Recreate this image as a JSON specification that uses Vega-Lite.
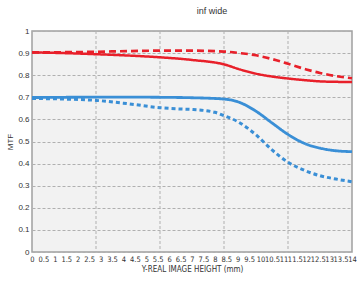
{
  "$schema": "https://vega.github.io/schema/vega-lite/v6.json",
  "width": 320,
  "height": 221,
  "autosize": {"type": "none"},
  "padding": {"left": 32, "top": 31, "right": 12, "bottom": 30},
  "background": "white",
  "title": {"text": "inf wide", "fontSize": 9, "fontWeight": "normal", "font": "Liberation Sans", "color": "#333333", "dx": 20, "offset": 11},
  "config": {"view": {"fill": "#f2f2f2", "stroke": "#a0a0a0", "strokeWidth": 1.5}},
  "datasets": {
    "vgrid": [{"x": 2.8}, {"x": 5.6}, {"x": 8.4}, {"x": 11.2}],
    "curves": [
      {"s": "RS", "x": 0, "y": 0.903}, {"s": "RS", "x": 1.4, "y": 0.9}, {"s": "RS", "x": 2.8, "y": 0.895}, {"s": "RS", "x": 4.2, "y": 0.889}, {"s": "RS", "x": 5.6, "y": 0.881}, {"s": "RS", "x": 7, "y": 0.869}, {"s": "RS", "x": 8.4, "y": 0.849}, {"s": "RS", "x": 9.1, "y": 0.826}, {"s": "RS", "x": 9.8, "y": 0.807}, {"s": "RS", "x": 10.5, "y": 0.794}, {"s": "RS", "x": 11.2, "y": 0.785}, {"s": "RS", "x": 12, "y": 0.777}, {"s": "RS", "x": 12.6, "y": 0.772}, {"s": "RS", "x": 13.3, "y": 0.77}, {"s": "RS", "x": 14, "y": 0.769},
      {"s": "RD", "x": 0, "y": 0.903}, {"s": "RD", "x": 1.4, "y": 0.904}, {"s": "RD", "x": 2.8, "y": 0.906}, {"s": "RD", "x": 4.2, "y": 0.909}, {"s": "RD", "x": 5.6, "y": 0.911}, {"s": "RD", "x": 7, "y": 0.911}, {"s": "RD", "x": 8.4, "y": 0.907}, {"s": "RD", "x": 9.1, "y": 0.9}, {"s": "RD", "x": 9.8, "y": 0.89}, {"s": "RD", "x": 10.5, "y": 0.873}, {"s": "RD", "x": 11.2, "y": 0.852}, {"s": "RD", "x": 12, "y": 0.826}, {"s": "RD", "x": 12.6, "y": 0.81}, {"s": "RD", "x": 13.3, "y": 0.796}, {"s": "RD", "x": 14, "y": 0.786},
      {"s": "BS", "x": 0, "y": 0.699}, {"s": "BS", "x": 1.4, "y": 0.7}, {"s": "BS", "x": 2.8, "y": 0.701}, {"s": "BS", "x": 4.2, "y": 0.701}, {"s": "BS", "x": 5.6, "y": 0.7}, {"s": "BS", "x": 7, "y": 0.698}, {"s": "BS", "x": 8.4, "y": 0.692}, {"s": "BS", "x": 9, "y": 0.68}, {"s": "BS", "x": 9.8, "y": 0.637}, {"s": "BS", "x": 10.5, "y": 0.584}, {"s": "BS", "x": 11.2, "y": 0.532}, {"s": "BS", "x": 12, "y": 0.488}, {"s": "BS", "x": 12.6, "y": 0.47}, {"s": "BS", "x": 13.3, "y": 0.458}, {"s": "BS", "x": 14, "y": 0.454},
      {"s": "BD", "x": 0, "y": 0.695}, {"s": "BD", "x": 1.4, "y": 0.692}, {"s": "BD", "x": 2.8, "y": 0.686}, {"s": "BD", "x": 4.2, "y": 0.671}, {"s": "BD", "x": 5.6, "y": 0.653}, {"s": "BD", "x": 6.5, "y": 0.647}, {"s": "BD", "x": 7, "y": 0.645}, {"s": "BD", "x": 8, "y": 0.632}, {"s": "BD", "x": 8.4, "y": 0.617}, {"s": "BD", "x": 9, "y": 0.59}, {"s": "BD", "x": 9.8, "y": 0.53}, {"s": "BD", "x": 10.5, "y": 0.462}, {"s": "BD", "x": 11.2, "y": 0.406}, {"s": "BD", "x": 12, "y": 0.366}, {"s": "BD", "x": 12.6, "y": 0.345}, {"s": "BD", "x": 13.3, "y": 0.33}, {"s": "BD", "x": 14, "y": 0.318}
    ]
  },
  "encoding": {
    "x": {
      "field": "x", "type": "quantitative",
      "scale": {"domain": [0, 14], "nice": false, "zero": false},
      "axis": {
        "values": [0, 0.5, 1, 1.5, 2, 2.5, 3, 3.5, 4, 4.5, 5, 5.5, 6, 6.5, 7, 7.5, 8, 8.5, 9, 9.5, 10, 10.5, 11, 11.5, 12, 12.5, 13, 13.5, 14],
        "format": "~g", "grid": false, "ticks": false, "domain": false,
        "labelFont": "'Liberation Sans Narrow', 'DejaVu Sans Condensed', 'Liberation Sans', sans-serif", "labelFontSize": 7.5, "labelColor": "#333333", "labelPadding": 3,
        "labelOverlap": false, "labelFlush": false, "labelBound": false,
        "title": "Y-REAL IMAGE HEIGHT (mm)", "titleFont": "'Liberation Sans Narrow', 'DejaVu Sans Condensed', 'Liberation Sans', sans-serif", "titleFontSize": 8, "titleFontWeight": "normal", "titleColor": "#333333", "titlePadding": 3
      }
    }
  },
  "layer": [
    {
      "data": {"name": "vgrid"},
      "mark": {"type": "rule", "color": "#b0b0b0", "strokeDash": [3, 2], "strokeWidth": 1}
    },
    {
      "data": {"name": "curves"},
      "mark": {"type": "line", "interpolate": "monotone", "strokeCap": "butt"},
      "encoding": {
        "y": {
          "field": "y", "type": "quantitative",
          "scale": {"domain": [0, 1], "nice": false},
          "axis": {
            "values": [0, 0.1, 0.2, 0.3, 0.4, 0.5, 0.6, 0.7, 0.8, 0.9, 1],
            "format": "~g", "grid": true, "gridDash": [3, 2], "gridColor": "#b0b0b0", "gridWidth": 1,
            "ticks": false, "domain": false,
            "labelFont": "Liberation Sans", "labelFontSize": 8, "labelColor": "#333333", "labelPadding": 3,
            "title": "MTF", "titleFont": "Liberation Sans", "titleFontSize": 8, "titleFontWeight": "normal", "titleColor": "#333333", "titlePadding": 3
          }
        },
        "color": {"field": "s", "type": "nominal", "scale": {"domain": ["RS", "RD", "BS", "BD"], "range": ["#e8202a", "#e8202a", "#3a8fd6", "#3a8fd6"]}, "legend": null},
        "strokeDash": {"field": "s", "type": "nominal", "scale": {"domain": ["RS", "RD", "BS", "BD"], "range": [[1, 0], [7, 4], [1, 0], [4, 3]]}, "legend": null},
        "strokeWidth": {"field": "s", "type": "nominal", "scale": {"domain": ["RS", "RD", "BS", "BD"], "range": [2.5, 3, 5, 4]}, "legend": null}
      }
    }
  ]
}
